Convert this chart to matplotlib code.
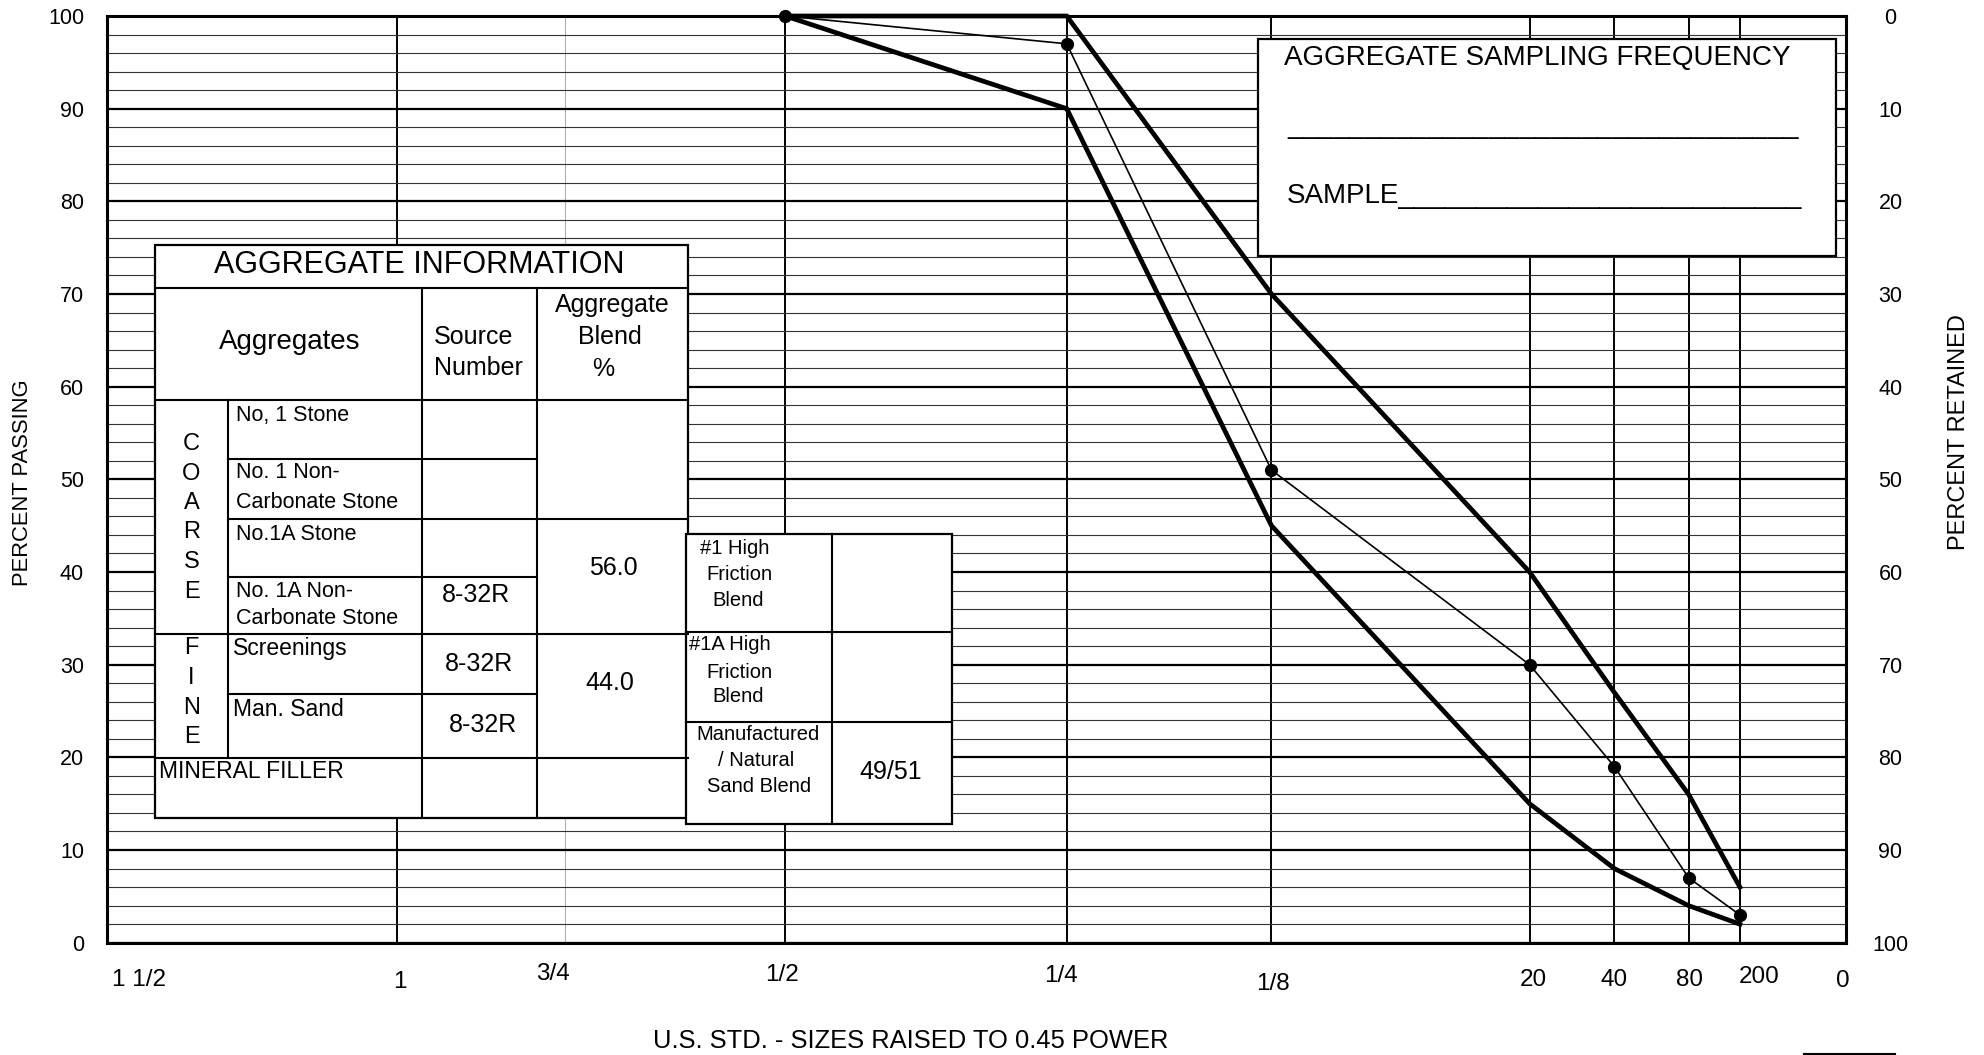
import numpy as np
import matplotlib
matplotlib.use('Agg')
import matplotlib.pyplot as plt
from matplotlib.patches import Rectangle
from matplotlib.transforms import ScaledTranslation, blended_transform_factory

plt.rcParams['font.family'] = ['Liberation Sans', 'DejaVu Sans']

# sieves (US std), sizes in mm, axis is size^0.45
sieve_labels = ['1 1/2', '1', '3/4', '1/2', '1/4', '1/8', '20', '40', '80', '200', '0']
sieve_mm = [37.5, 25.0, 19.0, 12.5, 6.3, 3.2, 0.85, 0.425, 0.18, 0.075, 0.0]

# gradation band and job mix blend
curve_mm = [12.5, 6.3, 3.2, 0.85, 0.425, 0.18, 0.075]
upper_limit = [100, 100, 70, 40, 27, 16, 6]
lower_limit = [100, 90, 45, 15, 8, 4, 2]
blend_passing = [100, 97, 51, 30, 19, 7, 3]

passing_ticks = list(range(0, 101, 10))
retained_ticks = list(range(0, 101, 10))

# table contents
agg_title = 'AGGREGATE INFORMATION'
agg_rows = [['No, 1 Stone'], ['No. 1 Non-', 'Carbonate Stone'], ['No.1A Stone'],
            ['No. 1A Non-', 'Carbonate Stone'], ['Screenings'], ['Man. Sand']]
source_numbers = ['8-32R', '8-32R', '8-32R']
blend_pct = ['56.0', '44.0']
hf_rows = [['#1 High', 'Friction', 'Blend'], ['#1A High', 'Friction', 'Blend'],
           ['Manufactured', '/ Natural', 'Sand Blend']]
hf_value = '49/51'


def fwd(x):
    x = np.asarray(x, dtype=float)
    return np.sign(x) * np.abs(x) ** 0.45


def inv(y):
    y = np.asarray(y, dtype=float)
    return np.sign(y) * np.abs(y) ** (1 / 0.45)


W, H = 1984, 1055
fig = plt.figure(figsize=(W / 100, H / 100), dpi=100)
left, right, top, bottom = 107, 1846, 16, 942.7
ax = fig.add_axes([left / W, 1 - bottom / H, (right - left) / W, (bottom - top) / H])
ax.set_xscale('function', functions=(fwd, inv))
ax.set_xlim(37.5, 0)
ax.set_ylim(0, 100)

# grid
ax.set_xticks(sieve_mm)
ax.set_yticks(passing_ticks)
ax.set_yticks(np.arange(0, 101, 2), minor=True)
ax.grid(axis='y', which='major', color='black', lw=1.6, zorder=0)
ax.grid(axis='y', which='minor', color='#333333', lw=0.8, zorder=0)
ax.grid(axis='x', which='major', color='black', lw=1.4, zorder=0)
ax.get_xgridlines()[2].set_color('#b0b0b0')
ax.get_xgridlines()[2].set_linewidth(0.8)
ax.tick_params(axis='x', length=0, labelbottom=False)
ax.tick_params(axis='y', which='both', length=0, labelsize=15.5, pad=16.5)
for s in ax.spines.values():
    s.set_linewidth(2.2)

ax2 = ax.twinx()
ax2.set_ylim(100, 0)
ax2.set_yticks(retained_ticks)
ax2.tick_params(axis='y', length=0, labelsize=15.5, pad=32)
for lab in ax2.get_yticklabels():
    lab.set_horizontalalignment('center')
for s in ax2.spines.values():
    s.set_visible(False)

# x labels, hand placed as on the form
label_dx = [32, 3, -12, -3, -6, 1, 4, 0, 1, 19, -3]
label_y = [980, 982, 974, 975, 976, 984, 980, 980, 980, 977, 981]
trans = blended_transform_factory(ax.transData, ax.transAxes)
for s, lab, dx, yc in zip(sieve_mm, sieve_labels, label_dx, label_y):
    off = ScaledTranslation(dx / 100, -(yc - bottom) / 100, fig.dpi_scale_trans)
    ax.text(s, 0, lab, transform=trans + off, ha='center', va='center', fontsize=17.5)

# curves
ax.plot(curve_mm, upper_limit, color='black', lw=3.4, solid_joinstyle='miter', zorder=3, clip_on=False)
ax.plot(curve_mm, lower_limit, color='black', lw=3.4, solid_joinstyle='miter', zorder=3, clip_on=False)
ax.plot(curve_mm, blend_passing, color='black', lw=1.2, marker='o', ms=8.5, zorder=4, clip_on=False)

# axis titles
fig.text(23 / W, 1 - 483 / H, 'PERCENT PASSING', rotation=90, ha='center', va='center', fontsize=15.8)
fig.text(1959 / W, 1 - 432 / H, 'PERCENT RETAINED', rotation=90, ha='center', va='center', fontsize=17)
fig.text(911 / W, 1 - 1041 / H, 'U.S. STD. - SIZES RAISED TO 0.45 POWER', ha='center', va='center', fontsize=18.4)

# overlay in pixel coords for the boxes on the form
ov = fig.add_axes([0, 0, 1, 1])
ov.set_xlim(0, W)
ov.set_ylim(H, 0)
ov.axis('off')


def box(x0, y0, x1, y1):
    ov.add_patch(Rectangle((x0, y0), x1 - x0, y1 - y0, fc='white', ec='black', lw=1.6))


def hline(y, x0, x1):
    ov.plot([x0, x1], [y, y], color='black', lw=1.5)


def vline(x, y0, y1):
    ov.plot([x, x], [y0, y1], color='black', lw=1.5)


def txt(x, y, s, size, ha='left'):
    ov.text(x, y, s, fontsize=size, ha=ha, va='center')


# aggregate information table
L, c1, c2, c3, R = 155, 228, 422, 537, 688
T, y1, y2 = 245, 288, 400
rows = [459, 518.5, 577, 634, 694, 758]
B = 818
box(L, T, R, B)
hline(y1, L, R)
hline(y2, L, R)
hline(rows[0], c1, c3)
hline(rows[1], c1, R)
hline(rows[2], c1, c3)
hline(rows[3], L, R)
hline(rows[4], c1, c3)
hline(rows[5], L, R)
vline(c1, y2, rows[5])
vline(c2, y1, B)
vline(c3, y1, B)

txt(419, 265, agg_title, 22, 'center')
txt(290, 342, 'Aggregates', 20, 'center')
txt(434, 337, 'Source', 18, 'left')
txt(434, 368, 'Number', 18, 'left')
txt(612, 305, 'Aggregate', 18, 'center')
txt(610, 337, 'Blend', 18, 'center')
txt(603, 369, '%', 18, 'center')

row_y = [[415], [473, 502], [534], [591.5, 618.5], [649], [709]]
row_x = [236, 236, 236, 236, 233, 233]
row_size = [15.5, 15.5, 15.5, 15.5, 16.5, 16.5]
for lines, ys, x, sz in zip(agg_rows, row_y, row_x, row_size):
    for line, y in zip(lines, ys):
        txt(x, y, line, sz)

for i, ch in enumerate('COARSE'):
    txt(191.5, 444 + i * 29.5, ch, 17, 'center')
for i, ch in enumerate('FINE'):
    txt(191.5, 648.5 + i * 29.5, ch, 17, 'center')
txt(159, 772, 'MINERAL FILLER', 16.5)

for s, (x, y) in zip(source_numbers, [(476, 595), (479, 664), (483, 725)]):
    txt(x, y, s, 18, 'center')
for s, (x, y) in zip(blend_pct, [(613, 568), (610, 683)]):
    txt(x, y, s, 18, 'center')

# high friction blend table
L2, M2, R2 = 686, 832, 952
T2, s1, s2, B2 = 534, 632, 722, 824
box(L2, T2, R2, B2)
hline(s1, L2, R2)
hline(s2, L2, R2)
vline(M2, T2, B2)
hf_x = [[735, 739, 738], [730, 739, 738], [758, 756, 759]]
hf_y = [[548, 574, 600], [645, 672, 697], [735, 761, 787]]
for lines, xs, ys in zip(hf_rows, hf_x, hf_y):
    for line, x, y in zip(lines, xs, ys):
        txt(x, y, line, 14.5, 'center')
txt(891, 772, hf_value, 18, 'center')

# sampling frequency box
box(1258, 38.5, 1836, 256)
ov.text(1284, 65.5, 'AGGREGATE SAMPLING FREQUENCY', fontsize=20, va='baseline')
ov.text(1287, 133, '_' * 33, fontsize=20, va='baseline')
ov.text(1287, 203, 'SAMPLE' + '_' * 26, fontsize=20, va='baseline')

hline(1054, 1804, 1895)

fig.savefig('out.png', dpi=100)
